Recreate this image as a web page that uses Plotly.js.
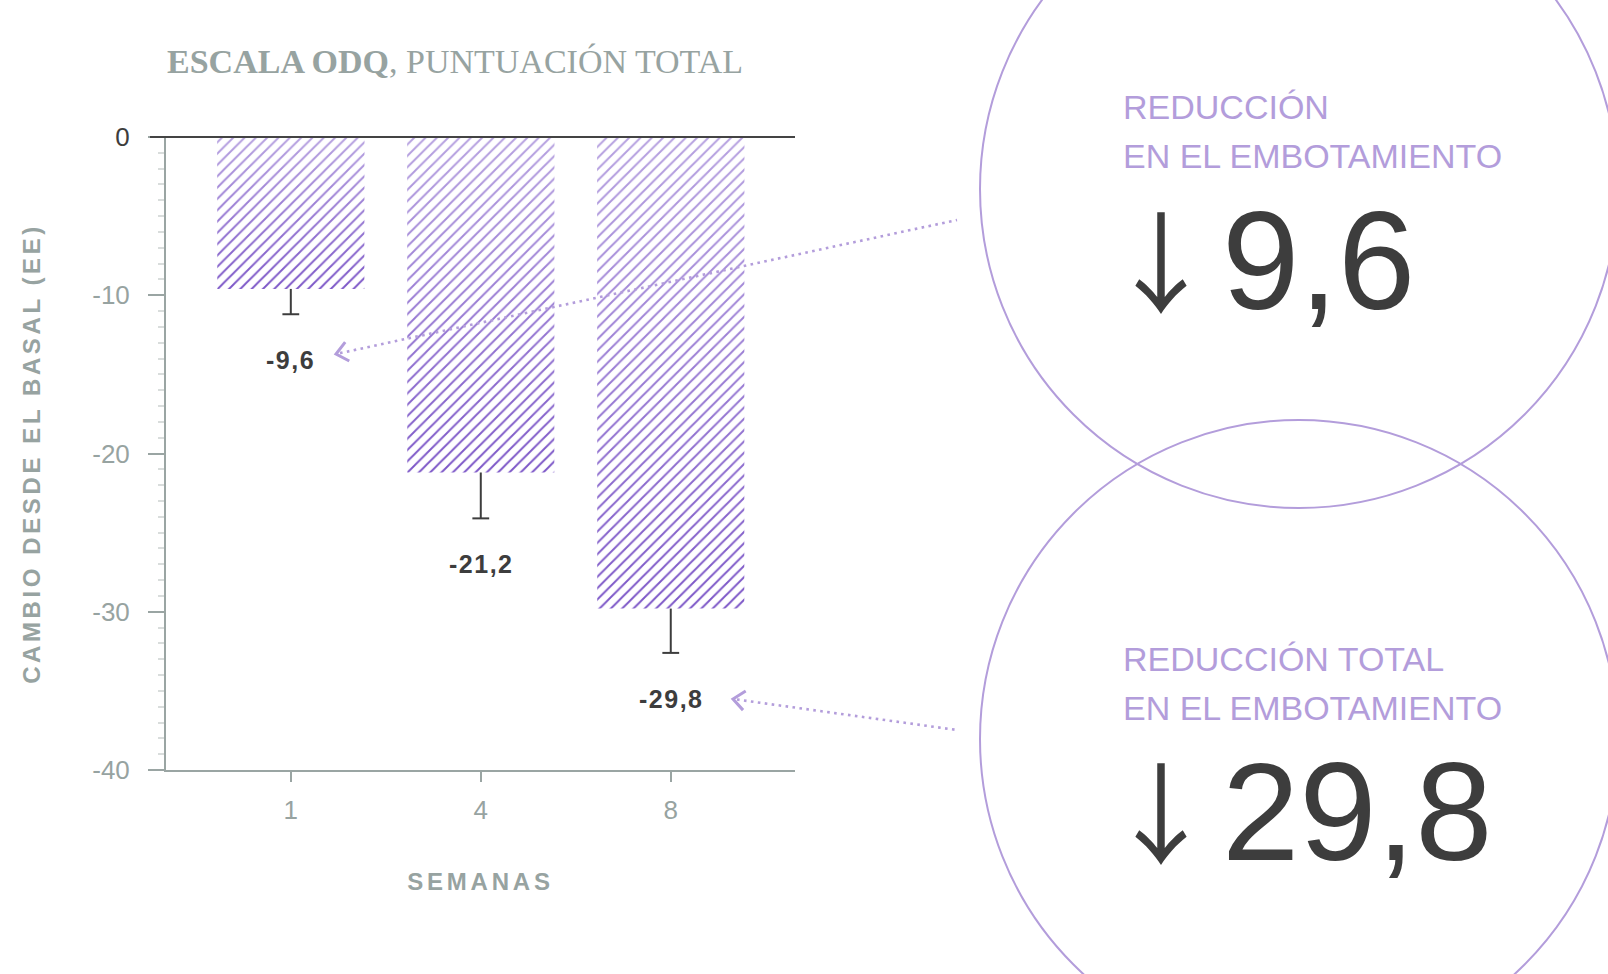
<!DOCTYPE html>
<html>
<head>
<meta charset="utf-8">
<script src="https://cdn.plot.ly/plotly-3.0.1.min.js"></script>
<style>
  html, body { margin: 0; padding: 0; background: #ffffff; }
  #chart { width: 1608px; height: 974px; }
</style>
</head>
<body>
<div id="chart"></div>
<script>
// ---------- data ----------
const weeks = ['1', '4', '8'];
const meanChange = [-9.6, -21.2, -29.8];
const seMinus = [1.6, 2.9, 2.8];
const yTickVals = [0, -10, -20, -30, -40];
const yTickText = ['0', '-10', '-20', '-30', '-40'];
const calloutHeads = ['REDUCCIÓN', 'EN EL EMBOTAMIENTO'];
const calloutHeads2 = ['REDUCCIÓN TOTAL', 'EN EL EMBOTAMIENTO'];
const calloutValues = [9.6, 29.8];

// ---------- styling ----------
const GRAY = '#97a3a1';
const AXIS = '#9aa5a3';
const DARK = '#3d3d3d';
const LAV = '#b39ddb';
const BAR = '#7b55c7';

const W = 1608, H = 974;
const M = { l: 166, r: 813, t: 137, b: 204 };
const PW = W - M.l - M.r, PH = H - M.t - M.b;
const px2x = px => (px - M.l) / PW;
const py2y = py => 1 - (py - M.t) / PH;

const fmt = v => v.toFixed(1).replace('.', ',');

// ---------- traces ----------
const bars = {
  type: 'bar',
  x: weeks,
  y: meanChange,
  marker: {
    color: '#ffffff',
    line: { width: 0 },
    pattern: { shape: '/', fgcolor: BAR, bgcolor: '#ffffff', size: 8, solidity: 0.24 }
  },
  hoverinfo: 'skip',
  showlegend: false
};

const errX = [], errY = [];
weeks.forEach((w, i) => {
  errX.push(w, w, null);
  errY.push(meanChange[i], meanChange[i] - seMinus[i], null);
});
const errLines = {
  type: 'scatter', mode: 'lines', x: errX, y: errY,
  line: { color: DARK, width: 2 }, hoverinfo: 'skip', showlegend: false, cliponaxis: false
};
const errCaps = {
  type: 'scatter', mode: 'markers', x: weeks,
  y: meanChange.map((v, i) => v - seMinus[i]),
  marker: { symbol: 'line-ew', size: 12, line: { color: DARK, width: 2 } },
  hoverinfo: 'skip', showlegend: false, cliponaxis: false
};

// ---------- annotations ----------
const annotations = weeks.map((w, i) => ({
  x: i, y: meanChange[i] - seMinus[i], xref: 'x', yref: 'y',
  yshift: -46, yanchor: 'middle', xanchor: 'center', showarrow: false,
  text: '<b><span style="letter-spacing:1.5px">' + fmt(meanChange[i]) + '</span></b>',
  font: { family: 'Liberation Sans, Arial, sans-serif', size: 25, color: DARK }
}));

const calloutBlocks = [
  { heads: calloutHeads, value: calloutValues[0], cy: [107.5, 155.5, 260] },
  { heads: calloutHeads2, value: calloutValues[1], cy: [659, 707.5, 811] }
];
calloutBlocks.forEach(b => {
  b.heads.forEach((t, k) => {
    annotations.push({
      xref: 'paper', yref: 'paper', x: px2x(1121), y: py2y(b.cy[k]),
      xanchor: 'left', yanchor: 'middle', showarrow: false, text: t,
      font: { family: 'Liberation Sans, Arial, sans-serif', size: 34, color: LAV }
    });
  });
  annotations.push({
    xref: 'paper', yref: 'paper', x: px2x(1160.5), y: py2y(b.cy[2] - 3),
    xanchor: 'center', yanchor: 'middle', showarrow: false, text: '↓',
    font: { family: 'Noto Sans CJK JP, sans-serif', size: 110, color: DARK, weight: 400 }
  });
  annotations.push({
    xref: 'paper', yref: 'paper', x: px2x(1220), y: py2y(b.cy[2]),
    xanchor: 'left', yanchor: 'middle', showarrow: false, text: fmt(b.value),
    font: { family: 'Liberation Sans, Arial, sans-serif', size: 139, color: DARK }
  });
});

// ---------- shapes ----------
const shapes = [];
shapes.push({ type: 'line', xref: 'paper', yref: 'paper', x0: px2x(150), x1: 1, y0: 1, y1: 1,
  line: { color: '#444444', width: 2 }, layer: 'above' });
[189, 739].forEach(cy => {
  const cx = 1299, r = 319;
  shapes.push({ type: 'circle', xref: 'paper', yref: 'paper',
    x0: px2x(cx - r), x1: px2x(cx + r), y0: py2y(cy + r), y1: py2y(cy - r),
    line: { color: LAV, width: 2 }, layer: 'above' });
});
const pointers = [
  { tip: [336, 354], tail: [957, 220] },
  { tip: [733, 699], tail: [957, 730] }
];
pointers.forEach(p => {
  shapes.push({ type: 'line', xref: 'paper', yref: 'paper',
    x0: px2x(p.tip[0] + 4), y0: py2y(p.tip[1] + (p.tail[1] - p.tip[1]) * 4 / (p.tail[0] - p.tip[0])),
    x1: px2x(p.tail[0]), y1: py2y(p.tail[1]),
    line: { color: LAV, width: 2.6, dash: '2.6px,4.4px' }, layer: 'above' });
  const ang = Math.atan2(p.tail[1] - p.tip[1], p.tail[0] - p.tip[0]);
  const L = 15, spread = 40 * Math.PI / 180;
  const a1 = [p.tip[0] + L * Math.cos(ang - spread), p.tip[1] + L * Math.sin(ang - spread)];
  const a2 = [p.tip[0] + L * Math.cos(ang + spread), p.tip[1] + L * Math.sin(ang + spread)];
  shapes.push({ type: 'path', xref: 'paper', yref: 'paper',
    path: 'M' + px2x(a1[0]) + ',' + py2y(a1[1]) + ' L' + px2x(p.tip[0]) + ',' + py2y(p.tip[1]) +
          ' L' + px2x(a2[0]) + ',' + py2y(a2[1]),
    line: { color: LAV, width: 3 }, layer: 'above' });
});

// ---------- layout ----------
const layout = {
  width: W, height: H,
  margin: { l: M.l, r: M.r, t: M.t, b: M.b, pad: 0 },
  paper_bgcolor: '#ffffff', plot_bgcolor: '#ffffff',
  showlegend: false,
  bargap: 0.226,
  title: {
    text: '<b>ESCALA ODQ</b>, PUNTUACIÓN TOTAL',
    font: { family: 'Liberation Serif, Times New Roman, serif', size: 34, color: GRAY },
    xref: 'container', x: 455 / W, xanchor: 'center',
    yref: 'container', y: 1 - 61.5 / H, yanchor: 'middle'
  },
  xaxis: {
    type: 'category', range: [-0.657, 2.654], fixedrange: true,
    showline: true, linecolor: AXIS, linewidth: 2,
    ticks: 'outside', ticklen: 10, tickwidth: 2, tickcolor: AXIS,
    ticklabelstandoff: 6,
    tickfont: { family: 'Liberation Sans, Arial, sans-serif', size: 26, color: GRAY },
    showgrid: false, zeroline: false,
    title: {
      text: '<b><span style="letter-spacing:3.8px">SEMANAS</span></b>',
      font: { family: 'Liberation Sans, Arial, sans-serif', size: 24, color: GRAY },
      standoff: 49
    }
  },
  yaxis: {
    range: [-40, 0], fixedrange: true,
    tickvals: yTickVals,
    ticktext: yTickText.map(t => t === '0' ? '<span style="color:' + DARK + '">0</span>' : t),
    showline: true, linecolor: AXIS, linewidth: 2,
    ticks: 'outside', ticklen: 16, tickwidth: 2, tickcolor: AXIS,
    ticklabelstandoff: 13,
    tickfont: { family: 'Liberation Sans, Arial, sans-serif', size: 26, color: GRAY },
    minor: { dtick: 1, tick0: 0, ticks: 'outside', ticklen: 6, tickwidth: 2, tickcolor: '#d9dddc', showgrid: false },
    showgrid: false, zeroline: false,
    title: {
      text: '<b><span style="letter-spacing:3.6px">CAMBIO DESDE EL BASAL (EE)</span></b>',
      font: { family: 'Liberation Sans, Arial, sans-serif', size: 24, color: GRAY },
      standoff: 45
    }
  },
  shapes: shapes,
  annotations: annotations
};

Plotly.newPlot('chart', [bars, errLines, errCaps], layout, { staticPlot: true, displayModeBar: false })
  .then(gd => {
    const NS = 'http://www.w3.org/2000/svg';
    const svg = gd.querySelector('svg.main-svg');
    let defs = svg.querySelector('defs');
    if (!defs) { defs = document.createElementNS(NS, 'defs'); svg.insertBefore(defs, svg.firstChild); }
    const g = document.createElementNS(NS, 'linearGradient');
    g.setAttribute('id', 'barFade');
    g.setAttribute('x1', '0'); g.setAttribute('y1', '0'); g.setAttribute('x2', '0'); g.setAttribute('y2', '1');
    [['0', 0.45], ['1', 0]].forEach(([o, a]) => {
      const s = document.createElementNS(NS, 'stop');
      s.setAttribute('offset', o); s.setAttribute('stop-color', '#ffffff'); s.setAttribute('stop-opacity', a);
      g.appendChild(s);
    });
    defs.appendChild(g);
    gd.querySelectorAll('.barlayer .point path').forEach(p => {
      const c = p.cloneNode(false);
      c.style.fill = 'url(#barFade)';
      c.style.fillOpacity = '1';
      c.style.stroke = 'none';
      p.parentNode.appendChild(c);
    });
  });
</script>
</body>
</html>
